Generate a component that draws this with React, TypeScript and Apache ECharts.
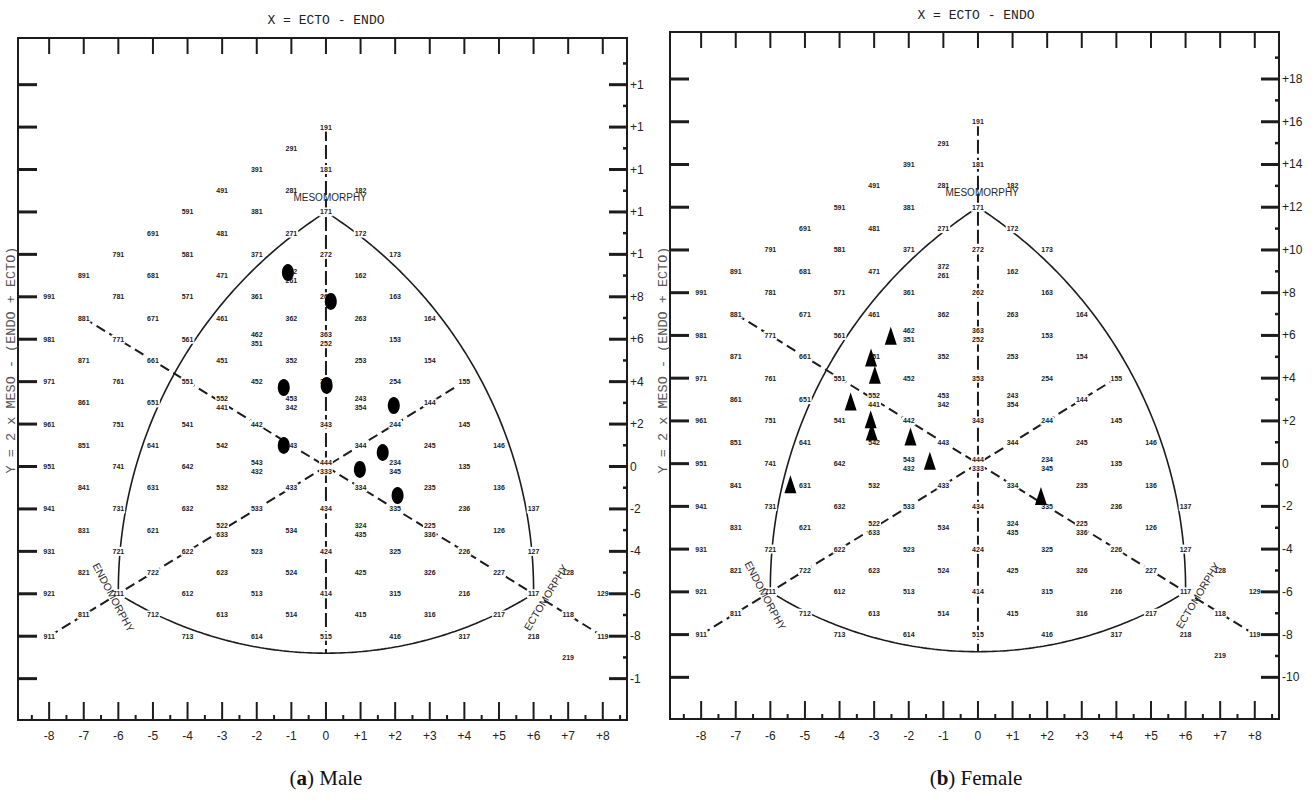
import React, { useEffect, useRef } from "react";
import * as echarts from "echarts";

// ---------------- tick values & labels ----------------
const xTickValues = [-8, -7, -6, -5, -4, -3, -2, -1, 0, 1, 2, 3, 4, 5, 6, 7, 8];
const xTickLabels = ["-8", "-7", "-6", "-5", "-4", "-3", "-2", "-1", "0", "+1", "+2", "+3", "+4", "+5", "+6", "+7", "+8"];
const xMinorTickValues = [-8.5, -7.5, -6.5, -5.5, -4.5, -3.5, -2.5, -1.5, -0.5, 0.5, 1.5, 2.5, 3.5, 4.5, 5.5, 6.5, 7.5, 8.5];
const yTickValues = [18, 16, 14, 12, 10, 8, 6, 4, 2, 0, -2, -4, -6, -8, -10];
const yTickLabelsMale = ["+1", "+1", "+1", "+1", "+1", "+8", "+6", "+4", "+2", "0", "-2", "-4", "-6", "-8", "-1"];
const yTickLabelsFemale = ["+18", "+16", "+14", "+12", "+10", "+8", "+6", "+4", "+2", "0", "-2", "-4", "-6", "-8", "-10"];
const yMinorTickValues = [19, 17, 15, 13, 11, 9, 7, 5, 3, 1, -1, -3, -5, -7, -9];

// ---------------- somatotype grid codes (endo-meso-ecto) ----------------
// codes sharing one position are listed top line first
const somatotypeCodes = [
  "191",
  "291",
  "391", "181",
  "491", "281", "182",
  "591", "381", "171",
  "691", "481", "271", "172",
  "791", "581", "371", "272", "173",
  "891", "681", "471", "372", "261", "162",
  "991", "781", "571", "361", "262", "163",
  "881", "671", "461", "362", "263", "164",
  "981", "771", "561", "462", "351", "363", "252", "153",
  "871", "661", "451", "352", "253", "154",
  "971", "761", "551", "452", "353", "254", "155",
  "861", "651", "552", "441", "453", "342", "243", "354", "144",
  "961", "751", "541", "442", "343", "244", "145",
  "851", "641", "542", "443", "344", "245", "146",
  "951", "741", "642", "543", "432", "444", "333", "234", "345", "135",
  "841", "631", "532", "433", "334", "235", "136",
  "941", "731", "632", "533", "434", "335", "236", "137",
  "831", "621", "522", "633", "534", "324", "435", "225", "336", "126",
  "931", "721", "622", "523", "424", "325", "226", "127",
  "821", "722", "623", "524", "425", "326", "227", "128",
  "921", "711", "612", "513", "414", "315", "216", "117", "129",
  "811", "712", "613", "514", "415", "316", "217", "118",
  "911", "713", "614", "515", "416", "317", "218", "119",
  "219",
];

// ---------------- subjects (X = ecto - endo, Y = 2*meso - (endo+ecto)) ----------------
const maleX = [-1.1, 0.14, -1.22, 0.02, 1.96, -1.22, 1.64, 0.98, 2.07];
const maleY = [9.14, 7.78, 3.72, 3.82, 2.87, 0.99, 0.66, -0.14, -1.37];
const femaleX = [-2.52, -3.09, -2.98, -3.68, -3.1, -3.07, -1.95, -1.39, -5.42, 1.82];
const femaleY = [5.99, 4.97, 4.16, 2.91, 2.08, 1.5, 1.27, 0.13, -0.97, -1.51];

// ---------------- chart construction ----------------
const MESO_VERTEX = "171";
const ENDO_VERTEX = "711";
const ECTO_VERTEX = "117";
const GUIDE_DIAG_1: [string, string] = ["881", "119"];
const GUIDE_DIAG_2: [string, string] = ["911", "155"];
const GUIDE_TOP = "191";

const LINE = "#1c1c1c";
const TEXT = "#222222";
const SANS = "'Liberation Sans', Arial, sans-serif";
const MONO = "'Courier New', 'Liberation Mono', monospace";
const SERIF = "'Liberation Serif', 'Times New Roman', serif";

const X_MIN = -8.9;
const X_MAX = 8.7;
const Y_MIN = -11.95;
const Y_MAX = 20.2;

function codeXY(code: string): [number, number] {
  const endo = +code[0];
  const meso = +code[1];
  const ecto = +code[2];
  return [ecto - endo, 2 * meso - (endo + ecto)];
}

// circular arc through three points, in a pixel-proportional space
function arcPoints(a: number[], b: number[], c: number[], n = 120): number[][] {
  const K = [34.6, 21.3];
  const A = [a[0] * K[0], a[1] * K[1]];
  const B = [b[0] * K[0], b[1] * K[1]];
  const C = [c[0] * K[0], c[1] * K[1]];
  const d = 2 * (A[0] * (B[1] - C[1]) + B[0] * (C[1] - A[1]) + C[0] * (A[1] - B[1]));
  const sa = A[0] * A[0] + A[1] * A[1];
  const sb = B[0] * B[0] + B[1] * B[1];
  const sc = C[0] * C[0] + C[1] * C[1];
  const ux = (sa * (B[1] - C[1]) + sb * (C[1] - A[1]) + sc * (A[1] - B[1])) / d;
  const uy = (sa * (C[0] - B[0]) + sb * (A[0] - C[0]) + sc * (B[0] - A[0])) / d;
  const r = Math.hypot(A[0] - ux, A[1] - uy);
  const ta = Math.atan2(A[1] - uy, A[0] - ux);
  const norm = (t: number) => {
    while (t < ta) t += 2 * Math.PI;
    while (t >= ta + 2 * Math.PI) t -= 2 * Math.PI;
    return t;
  };
  const tb = norm(Math.atan2(B[1] - uy, B[0] - ux));
  const tc = norm(Math.atan2(C[1] - uy, C[0] - ux));
  const end = tc <= tb ? tb : tb - 2 * Math.PI;
  const pts: number[][] = [];
  for (let i = 0; i <= n; i++) {
    const t = ta + ((end - ta) * i) / n;
    pts.push([(ux + r * Math.cos(t)) / K[0], (uy + r * Math.sin(t)) / K[1]]);
  }
  return pts;
}

function groupedLabels() {
  const map = new Map<string, { pos: [number, number]; codes: string[] }>();
  somatotypeCodes.forEach((c) => {
    const p = codeXY(c);
    const k = p.join(",");
    if (!map.has(k)) map.set(k, { pos: p, codes: [] });
    map.get(k)!.codes.push(c);
  });
  return Array.from(map.values()).map((g) => ({ value: g.pos, name: g.codes.join("\n") }));
}

function panelSeries(gi: number, markersX: number[], markersY: number[], symbol: string, symbolSize: number[], rightLabels: string[]) {
  const meso = codeXY(MESO_VERTEX);
  const endo = codeXY(ENDO_VERTEX);
  const ecto = codeXY(ECTO_VERTEX);
  const leftVia = [endo[0] + 0.7, endo[1] + 7];
  const rightVia = [ecto[0] - 0.7, ecto[1] + 7];
  const bottomVia = [0, -8.8];
  const arcStyle = { color: LINE, width: 1.6 };
  const base = { xAxisIndex: gi, yAxisIndex: gi, silent: true, animation: false };

  const lineSeries = (data: number[][], style: any, z = 2) => ({
    ...base,
    type: "line",
    data,
    showSymbol: false,
    symbol: "none",
    smooth: false,
    z,
    lineStyle: style,
  });

  const top = codeXY(GUIDE_TOP);
  const series: any[] = [
    lineSeries(arcPoints(meso, endo, leftVia), arcStyle),
    lineSeries(arcPoints(meso, ecto, rightVia), arcStyle),
    lineSeries(arcPoints(endo, ecto, bottomVia), arcStyle),
    lineSeries([top, [0, bottomVia[1]]], { color: LINE, width: 2, type: [14, 4] }),
    lineSeries([codeXY(GUIDE_DIAG_1[0]), codeXY(GUIDE_DIAG_1[1])], { color: LINE, width: 2, type: [10, 5] }),
    lineSeries([codeXY(GUIDE_DIAG_2[0]), codeXY(GUIDE_DIAG_2[1])], { color: LINE, width: 2, type: [10, 5] }),
    {
      ...base,
      type: "scatter",
      z: 3,
      symbolSize: 1,
      itemStyle: { color: "rgba(0,0,0,0)", opacity: 1 },
      data: groupedLabels(),
      label: {
        show: true,
        position: "inside",
        formatter: "{b}",
        fontSize: 7,
        fontWeight: "bold",
        fontFamily: SANS,
        color: TEXT,
        lineHeight: 9,
        backgroundColor: "#ffffff",
        padding: [0, 1],
      },
    },
    {
      ...base,
      type: "scatter",
      z: 3,
      symbolSize: 1,
      itemStyle: { color: "rgba(0,0,0,0)", opacity: 1 },
      data: [
        { value: [meso[0] + 0.12, meso[1] + 0.68], name: "MESOMORPHY", label: { rotate: 0, fontSize: 10 } },
        { value: [endo[0] - 0.15, endo[1] - 0.18], name: "ENDOMORPHY", label: { rotate: -62 } },
        { value: [ecto[0] + 0.36, ecto[1] - 0.18], name: "ECTOMORPHY", label: { rotate: 59 } },
      ],
      label: { show: true, position: "inside", formatter: "{b}", fontSize: 10.5, fontFamily: SANS, color: "#2a2a2a" },
    },
    {
      ...base,
      type: "scatter",
      z: 4,
      symbol,
      symbolSize,
      itemStyle: { color: "#000", opacity: 1 },
      data: markersX.map((x, i) => [x, markersY[i]]),
    },
    // top ticks
    {
      ...base,
      type: "custom",
      z: 5,
      clip: false,
      data: xTickValues.map((v) => [v, 0]),
      renderItem: (params: any, api: any) => {
        const cs = params.coordSys;
        const px = api.coord([api.value(0), 0])[0];
        return { type: "line", shape: { x1: px, y1: cs.y, x2: px, y2: cs.y + 16 }, style: { stroke: LINE, lineWidth: 2 } };
      },
    },
    // bottom ticks + labels
    {
      ...base,
      type: "custom",
      z: 5,
      clip: false,
      data: xTickValues.map((v) => [v, 0]),
      renderItem: (params: any, api: any) => {
        const cs = params.coordSys;
        const px = api.coord([api.value(0), 0])[0];
        const y0 = cs.y + cs.height;
        return {
          type: "group",
          children: [
            { type: "line", shape: { x1: px, y1: y0, x2: px, y2: y0 - 18 }, style: { stroke: LINE, lineWidth: 2 } },
            {
              type: "text",
              x: px,
              y: 736,
              style: { text: xTickLabels[params.dataIndex], fill: TEXT, fontSize: 12, fontFamily: SANS, align: "center", verticalAlign: "middle", textAlign: "center", textVerticalAlign: "middle" },
            },
          ],
        };
      },
    },
    {
      ...base,
      type: "custom",
      z: 5,
      clip: false,
      data: xMinorTickValues.map((v) => [v, 0]),
      renderItem: (params: any, api: any) => {
        const cs = params.coordSys;
        const px = api.coord([api.value(0), 0])[0];
        const y0 = cs.y + cs.height;
        return { type: "line", shape: { x1: px, y1: y0, x2: px, y2: y0 - 5 }, style: { stroke: LINE, lineWidth: 2 } };
      },
    },
    // left ticks
    {
      ...base,
      type: "custom",
      z: 5,
      clip: false,
      data: yTickValues.map((v) => [0, v]),
      renderItem: (params: any, api: any) => {
        const cs = params.coordSys;
        const py = api.coord([0, api.value(1)])[1];
        return { type: "line", shape: { x1: cs.x, y1: py, x2: cs.x + 19, y2: py }, style: { stroke: LINE, lineWidth: 3 } };
      },
    },
    // right ticks + labels
    {
      ...base,
      type: "custom",
      z: 5,
      clip: false,
      data: yTickValues.map((v) => [0, v]),
      renderItem: (params: any, api: any) => {
        const cs = params.coordSys;
        const py = api.coord([0, api.value(1)])[1];
        const x0 = cs.x + cs.width;
        return {
          type: "group",
          children: [
            { type: "line", shape: { x1: x0, y1: py, x2: x0 - 18, y2: py }, style: { stroke: LINE, lineWidth: 3 } },
            {
              type: "text",
              x: x0 + 3,
              y: py,
              style: { text: rightLabels[params.dataIndex], fill: TEXT, fontSize: 12, fontFamily: SANS, align: "left", verticalAlign: "middle", textAlign: "left", textVerticalAlign: "middle" },
            },
          ],
        };
      },
    },
    {
      ...base,
      type: "custom",
      z: 5,
      clip: false,
      data: yMinorTickValues.map((v) => [0, v]),
      renderItem: (params: any, api: any) => {
        const cs = params.coordSys;
        const py = api.coord([0, api.value(1)])[1];
        const x0 = cs.x + cs.width;
        return { type: "line", shape: { x1: x0, y1: py, x2: x0 - 4, y2: py }, style: { stroke: LINE, lineWidth: 2.5 } };
      },
    },
  ];
  return series;
}

const PANELS = [
  { left: 18, top: 38, width: 609, height: 682, cx: 326, titleY: 20, yTitleX: 11, caption: "a", captionText: " Male" },
  { left: 670, top: 32, width: 609, height: 687, cx: 976, titleY: 15, yTitleX: 663, caption: "b", captionText: " Female" },
];

export default function App() {
  const ref = useRef<HTMLDivElement>(null);
  useEffect(() => {
    if (!ref.current) return;
    const chart = echarts.init(ref.current, undefined, { renderer: "svg" });
    const graphics: any[] = [];
    PANELS.forEach((p) => {
      graphics.push({
        type: "text",
        x: p.cx,
        y: p.titleY,
        style: { text: "X = ECTO - ENDO", fill: TEXT, fontSize: 13, fontFamily: MONO, align: "center", verticalAlign: "middle", textAlign: "center", textVerticalAlign: "middle" },
      });
      graphics.push({
        type: "text",
        x: p.yTitleX,
        y: 360,
        rotation: Math.PI / 2,
        style: { text: "Y = 2 x MESO - (ENDO + ECTO)", fill: "#555", fontSize: 13.5, fontFamily: MONO, align: "center", verticalAlign: "middle", textAlign: "center", textVerticalAlign: "middle" },
      });
      graphics.push({
        type: "text",
        x: p.cx,
        y: 778,
        style: {
          text: "({b|" + p.caption + "})" + p.captionText,
          fill: "#111",
          fontSize: 21,
          fontFamily: SERIF,
          align: "center",
          verticalAlign: "middle",
          textAlign: "center",
          textVerticalAlign: "middle",
          rich: { b: { fontWeight: "bold", fontSize: 21, fontFamily: SERIF, fill: "#111" } },
        },
      });
    });

    chart.setOption({
      animation: false,
      backgroundColor: "#ffffff",
      grid: PANELS.map((p) => ({
        left: p.left,
        top: p.top,
        width: p.width,
        height: p.height,
        show: true,
        borderColor: LINE,
        borderWidth: 2,
        backgroundColor: "transparent",
        containLabel: false,
      })),
      xAxis: PANELS.map((_, i) => ({ gridIndex: i, type: "value", min: X_MIN, max: X_MAX, show: false })),
      yAxis: PANELS.map((_, i) => ({ gridIndex: i, type: "value", min: Y_MIN, max: Y_MAX, show: false })),
      graphic: graphics,
      series: [
        ...panelSeries(0, maleX, maleY, "circle", [12, 17], yTickLabelsMale),
        ...panelSeries(1, femaleX, femaleY, "triangle", [12, 18], yTickLabelsFemale),
      ],
    });
    return () => chart.dispose();
  }, []);
  return (
    <div
      ref={ref}
      style={{ position: "absolute", left: 0, top: 0, width: 1315, height: 803, background: "#fff" }}
    />
  );
}
